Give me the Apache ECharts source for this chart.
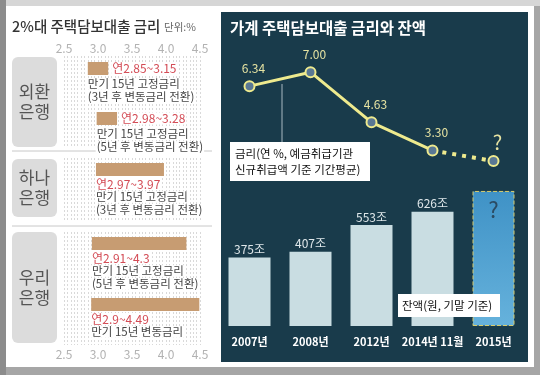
<!DOCTYPE html>
<html>
<head>
<meta charset="utf-8">
<script src="https://cdn.jsdelivr.net/npm/echarts@6/dist/echarts.min.js"></script>
<style>
html, body { margin: 0; padding: 0; background: #b0b0b0; }
#main { width: 540px; height: 375px; }
</style>
</head>
<body>
<div id="main"></div>
<script>
const FONT = '"Noto Sans CJK KR", "Noto Sans", sans-serif';

// 왼쪽: 은행별 주택담보대출 금리 범위 (단위 %)
const rateLow = [2.85, 2.98, 2.97, 2.91, 2.9];
const rateHigh = [3.15, 3.28, 3.97, 4.3, 4.49];
const rangeLabels = ["연2.85~3.15", "연2.98~3.28", "연2.97~3.97", "연2.91~4.3", "연2.9~4.49"];
const productLines = [
    ["만기 15년 고정금리", "(3년 후 변동금리 전환)"],
    ["만기 15년 고정금리", "(5년 후 변동금리 전환)"],
    ["만기 15년 고정금리", "(3년 후 변동금리 전환)"],
    ["만기 15년 고정금리", "(5년 후 변동금리 전환)"],
    ["만기 15년 변동금리"],
];
const banks = ["외환\n은행", "하나\n은행", "우리\n은행"];

// 오른쪽: 가계 주택담보대출 금리와 잔액
const years = ["2007년", "2008년", "2012년", "2014년 11월", "2015년"];
const loanRate = [6.34, 7.0, 4.63, 3.3, 2.8];
const rateLabels = ["6.34", "7.00", "4.63", "3.30", "?"];
const balance = [375, 407, 553, 626, 740];
const balanceLabels = ["375조", "407조", "553조", "626조", "?"];

// 배치
const groupBox = [[56, 146], [158, 220], [232, 345]];
const barTop = [62, 112, 163, 237, 298];
const labelRight = [true, true, false, false, false];
const BAR_H = 13;

var chart = echarts.init(document.getElementById("main"), null, { renderer: "canvas" });

var grids = [], xAxes = [], yAxes = [], series = [];

//0.5 단위만 눈금 글자 표시
function halfStep(v) {
    return Math.abs(v * 2 - Math.round(v * 2)) < 1e-6 ? v.toFixed(1) : "";
}

// 점선 눈금 그리드 (은행별)
groupBox.forEach((g, i) => {
    grids.push({ left: 64, width: 136, top: g[0], height: g[1] - g[0] });
    xAxes.push({
        gridIndex: grids.length - 1,
        type: "value",
        min: 2.5,
        max: 4.5,
        interval: 0.05,
        position: i == 0 ? "top" : "bottom",
        axisLine: { show: false },
        axisTick: { show: false },
        axisLabel: {
            show: i == 0 || i == 2,
            margin: i == 0 ? 2 : 3,
            color: "#b2b2b2",
            fontSize: 12,
            fontFamily: FONT,
            formatter: halfStep,
        },
        splitLine: { show: true, lineStyle: { color: "#d9d9d9", type: [2, 2], width: 1 } },
    });
    yAxes.push({ gridIndex: grids.length - 1, type: "value", min: 0, max: 1, show: false });
});

// 금리 범위 막대
rateLow.forEach((lo, i) => {
    grids.push({ left: 64, width: 136, top: barTop[i], height: BAR_H });
    var gi = grids.length - 1;
    xAxes.push({ gridIndex: gi, type: "value", min: 2.5, max: 4.5, show: false });
    yAxes.push({ gridIndex: gi, type: "category", data: ["r"], show: false });
    series.push({
        type: "custom",
        xAxisIndex: gi,
        yAxisIndex: gi,
        clip: false,
        z: 5,
        data: [[lo, rateHigh[i], 0]],
        encode: { x: [0, 1], y: 2 },
        renderItem: function (params, api) {
            var s = api.coord([api.value(0), api.value(2)]);
            var e = api.coord([api.value(1), api.value(2)]);
            var h = api.size([0, 1])[1];
            var top = s[1] - h / 2, bottom = s[1] + h / 2;
            var kids = [
                {
                    type: "rect",
                    shape: { x: s[0], y: top, width: e[0] - s[0], height: h },
                    style: { fill: "#c79c72" },
                },
            ];
            var subY;
            if (labelRight[i]) {
                kids.push({
                    type: "text",
                    style: { text: rangeLabels[i], x: e[0] + 3, y: s[1], verticalAlign: "middle", fill: "#d34b55", fontSize: 12, fontFamily: FONT, backgroundColor: "#fff", padding: [0, 1] },
                });
                subY = bottom + 9;
            } else {
                kids.push({
                    type: "text",
                    style: { text: rangeLabels[i], x: s[0] - 1, y: bottom + 8, verticalAlign: "middle", fill: "#d34b55", fontSize: 12, fontFamily: FONT, backgroundColor: "#fff", padding: [0, 1] },
                });
                subY = bottom + 21;
            }
            productLines[i].forEach((t, k) => {
                kids.push({
                    type: "text",
                    style: { text: t, x: s[0] - 1, y: subY + k * 13, verticalAlign: "middle", fill: "#454545", fontSize: 11.5, fontFamily: FONT, backgroundColor: "#fff", padding: [0, 1] },
                });
            });
            return { type: "group", children: kids };
        },
    });
});

// 오른쪽 잔액 막대
grids.push({ left: 219, width: 305, top: 180, height: 146 });
var balGrid = grids.length - 1;
xAxes.push({
    gridIndex: balGrid,
    type: "category",
    data: years,
    axisLine: { show: false },
    axisTick: { show: false },
    axisLabel: { color: "#ffffff", fontSize: 11, fontWeight: "bold", fontFamily: FONT, margin: 10, interval: 0 },
});
yAxes.push({ gridIndex: balGrid, type: "value", min: 0, max: 800, show: false });
series.push({
    type: "bar",
    xAxisIndex: balGrid,
    yAxisIndex: balGrid,
    barWidth: 42,
    data: balance.map((v, i) => {
        if (i < balance.length - 1) return v;
        return {
            value: v,
            itemStyle: {
                color: new echarts.graphic.LinearGradient(0, 0, 0, 1, [
                    { offset: 0, color: "#3f92c6" },
                    { offset: 1, color: "#66b2dc" },
                ]),
                borderColor: "#d9cc6c",
                borderType: "dashed",
                borderWidth: 1,
            },
            label: { position: "insideTop", distance: 8, fontSize: 22, color: "#2b4b63" },
        };
    }),
    itemStyle: { color: "#c9dde2" },
    label: {
        show: true,
        position: "top",
        distance: 2,
        color: "#dfe7ea",
        fontSize: 12,
        fontFamily: FONT,
        formatter: p => balanceLabels[p.dataIndex],
    },
});

// 오른쪽 금리 꺾은선
grids.push({ left: 219, width: 305, top: 51, height: 127 });
var rateGrid = grids.length - 1;
xAxes.push({ gridIndex: rateGrid, type: "category", data: years, show: false });
yAxes.push({ gridIndex: rateGrid, type: "value", min: 2, max: 8, show: false });
var YELLOW = "#eeea8e";
var last = loanRate.length - 1;
var solidPart = loanRate.map((v, i) => (i < last ? v : null));
var dottedPart = loanRate.map((v, i) => (i >= last - 1 ? v : null));

// 실선 (3.30까지)
series.push({
    type: "line",
    xAxisIndex: rateGrid,
    yAxisIndex: rateGrid,
    data: solidPart,
    z: 3,
    symbol: "none",
    lineStyle: { color: YELLOW, width: 3 },
});
// 점선 (전망)
series.push({
    type: "line",
    xAxisIndex: rateGrid,
    yAxisIndex: rateGrid,
    data: dottedPart,
    z: 3,
    symbol: "none",
    lineStyle: { color: YELLOW, width: 4, type: [4, 6] },
});
// 점과 라벨
series.push({
    type: "line",
    xAxisIndex: rateGrid,
    yAxisIndex: rateGrid,
    data: loanRate.map((v, i) => (i < last ? v : { value: v, label: { fontSize: 20, distance: 3 } })),
    z: 4,
    symbol: "circle",
    symbolSize: 10,
    showAllSymbol: true,
    itemStyle: { color: "#5a7894", borderColor: YELLOW, borderWidth: 2 },
    lineStyle: { width: 0, opacity: 0 },
    label: {
        show: true,
        position: "top",
        distance: 6,
        offset: [4, 0],
        color: "#e6e3a2",
        fontSize: 12,
        fontFamily: FONT,
        formatter: p => rateLabels[p.dataIndex],
    },
});

var graphics = [
    // 바깥 테두리와 흰 바탕
    { type: "rect", z: -20, shape: { x: 0, y: 0, width: 540, height: 375 }, style: { fill: "#a6a6a6" } },
    { type: "rect", z: -20, shape: { x: 0, y: 0, width: 540, height: 6 }, style: { fill: "#d6d6d6" } },
    { type: "rect", z: -20, shape: { x: 0, y: 0, width: 6, height: 375 }, style: { fill: "#8c8c8c" } },
    { type: "rect", z: -19, shape: { x: 6, y: 6, width: 528, height: 361 }, style: { fill: "#ffffff" } },
    // 오른쪽 어두운 패널
    { type: "rect", z: -18, shape: { x: 221, y: 12, width: 307, height: 350 }, style: { fill: "#193b4b" } },
    // 제목
    { type: "text", z: 10, style: { text: "2%대 주택담보대출 금리", x: 12, y: 26, verticalAlign: "middle", fill: "#333", fontSize: 14.5, fontWeight: 500, fontFamily: FONT } },
    { type: "text", z: 10, style: { text: "단위:%", x: 164, y: 27, verticalAlign: "middle", fill: "#666", fontSize: 10.5, fontFamily: FONT } },
    { type: "text", z: 10, style: { text: "가계 주택담보대출 금리와 잔액", x: 230, y: 28, verticalAlign: "middle", fill: "#ffffff", fontSize: 15.5, fontWeight: "bold", fontFamily: FONT } },
    // 구분선
    { type: "line", z: -5, shape: { x1: 12, y1: 151, x2: 212, y2: 151 }, style: { stroke: "#c8c8c8", lineWidth: 1 } },
    { type: "line", z: -5, shape: { x1: 12, y1: 226, x2: 212, y2: 226 }, style: { stroke: "#c8c8c8", lineWidth: 1 } },
    // 범례 상자
    { type: "line", z: 10, shape: { x1: 282, y1: 84, x2: 282, y2: 143 }, style: { stroke: "#a9b9c2", lineWidth: 1 } },
    { type: "rect", z: 100, shape: { x: 230, y: 142, width: 140, height: 39 }, style: { fill: "#ffffff" } },
    { type: "text", z: 101, style: { text: "금리(연 %, 예금취급기관\n신규취급액 기준 기간평균)", x: 235, y: 161.5, verticalAlign: "middle", lineHeight: 16, fill: "#111", fontSize: 11.5, fontFamily: FONT } },
    { type: "rect", z: 100, shape: { x: 398, y: 294, width: 102, height: 23 }, style: { fill: "#ffffff" } },
    { type: "text", z: 101, style: { text: "잔액(원, 기말 기준)", x: 402, y: 305.5, verticalAlign: "middle", fill: "#111", fontSize: 11.5, fontFamily: FONT } },
];

// 은행 이름 상자
var bankBox = [[57, 147], [159, 217], [232, 343]];
banks.forEach((b, i) => {
    var bx = bankBox[i];
    graphics.push({ type: "rect", z: -5, shape: { x: 12, y: bx[0], width: 45, height: bx[1] - bx[0], r: 6 }, style: { fill: "#dcdcdc" } });
    graphics.push({
        type: "text",
        z: 10,
        style: { text: b, x: 34.5, y: (bx[0] + bx[1]) / 2, align: "center", verticalAlign: "middle", lineHeight: 20, fill: "#555", fontSize: 17, fontFamily: FONT },
    });
});

chart.setOption({
    backgroundColor: "transparent",
    animation: false,
    textStyle: { fontFamily: FONT },
    grid: grids,
    xAxis: xAxes,
    yAxis: yAxes,
    series: series,
    graphic: graphics,
});
</script>
</body>
</html>
